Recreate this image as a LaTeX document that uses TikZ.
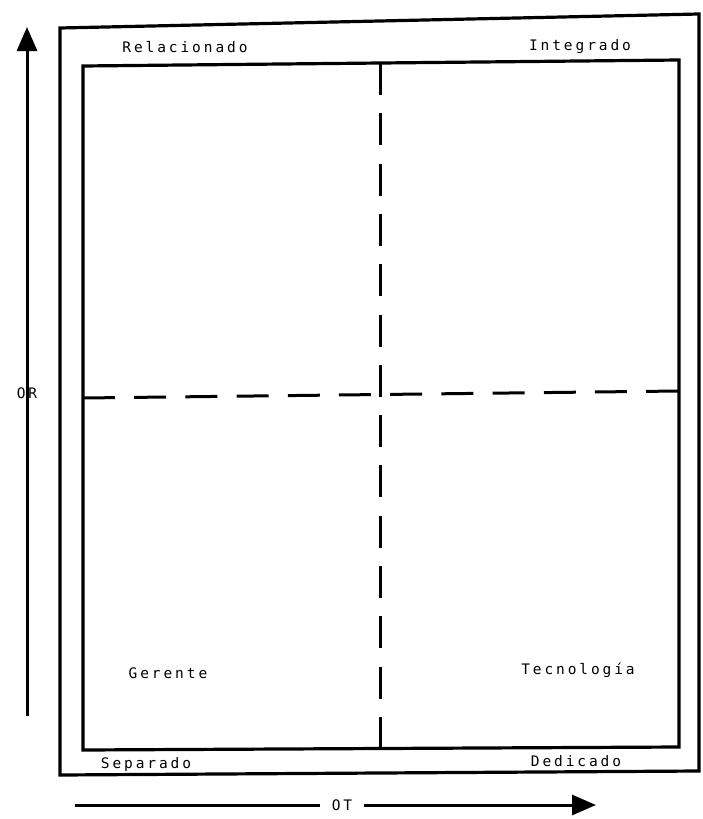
\documentclass[tikz,border=0pt]{standalone}
\usepackage{fontspec}
\setmonofont{DejaVu Sans Mono}[LetterSpace=20]
\usetikzlibrary{arrows.meta}
\begin{document}
\begin{tikzpicture}[x=1pt,y=-1pt,
  frame/.style={line width=3.2pt,line join=miter},
  dashln/.style={line width=3pt},
  lbl/.style={font=\ttfamily\fontsize{14.5}{16}\selectfont,inner sep=0pt,anchor=base},
  axis/.style={line width=3pt,-{Triangle[length=24pt,width=20pt]}},
  plain/.style={line width=3pt}]
\useasboundingbox (0,0) rectangle (703,819);
% outer frame
\coordinate (o1) at (60,28);
\coordinate (o2) at (699,14);
\coordinate (o3) at (699,771);
\coordinate (o4) at (60,775);
\draw[frame] (o1) -- (o2) -- (o3) -- (o4) -- cycle;
% inner frame
\coordinate (i1) at (83,66);
\coordinate (i2) at (679,60);
\coordinate (i3) at (679,747);
\coordinate (i4) at (83,750);
\draw[frame] (i1) -- (i2) -- (i3) -- (i4) -- cycle;
% dashed dividers
\coordinate (vt) at (380,63);
\coordinate (vb) at (380,749);
\draw[dashln,dash pattern=on 32pt off 18.3pt] (vt) -- (vb);
\coordinate (hl) at (83,398);
\coordinate (hr) at (679,391);
\draw[dashln,dash pattern=on 32pt off 19.2pt] (hl) -- (hr);
% corner labels
\node[lbl] (rel) at (185,52) {Relacionado};
\node[lbl] (int) at (580,50) {Integrado};
\node[lbl] (sep) at (146,768) {Separado};
\node[lbl] (ded) at (576,766) {Dedicado};
\node[lbl] (ger) at (168,678) {Gerente};
\node[lbl] (tec) at (578,674) {Tecnología};
% vertical axis OR
\node[lbl,anchor=center] (or) at (27,393) {OR};
\coordinate (ortop) at (27,27);
\coordinate (orbot) at (27,716);
\draw[axis] ([yshift=-33pt]or.center) -- (ortop);
\draw[plain] ([yshift=33pt]or.center) -- (orbot);
% horizontal axis OT
\node[lbl,anchor=center] (ot) at (342,805) {OT};
\coordinate (otl) at (75,805);
\coordinate (otr) at (596,805);
\draw[plain] (otl) -- ([xshift=-22pt]ot.center);
\draw[axis] ([xshift=22pt]ot.center) -- (otr);
\end{tikzpicture}
\end{document}
